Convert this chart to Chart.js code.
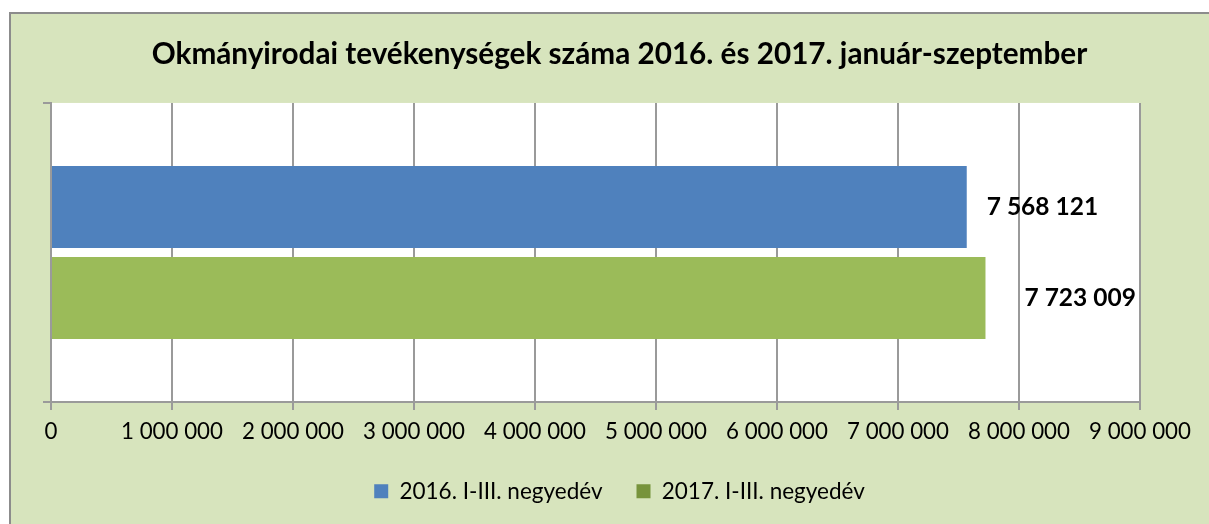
<!DOCTYPE html>
<html>
<head>
<meta charset="utf-8">
<script src="https://cdn.jsdelivr.net/npm/chart.js@4"></script>
<style>
  html, body { margin: 0; padding: 0; background: #fff; overflow: hidden; }
  #frame {
    position: absolute; left: 9px; top: 12px;
    width: 1220px; height: 530px;
    background: #d7e4bd;
    border-top: 2px solid #8c8c8c; border-left: 2px solid #8c8c8c;
  }
  canvas { display: block; }
</style>
</head>
<body>
<div id="frame"><canvas id="c" width="1198" height="510"></canvas></div>
<script>
const title = "Okmányirodai tevékenységek száma 2016. és 2017. január-szeptember";
const categories = [""];
const seriesNames = ["2016. I-III. negyedév", "2017. I-III. negyedév"];
const values2016 = [7568121];
const values2017 = [7723009];
const xTicks = [0, 1000000, 2000000, 3000000, 4000000, 5000000, 6000000, 7000000, 8000000, 9000000];

const barColors = ["#4f81bd", "#9bbb59"];
const legendColors = ["#4f81bd", "#77933c"];
const labelOffsets = [20, 39];
const gridColor = "#9a9a9a";

// 7568121 -> "7 568 121"
function fmt(v) {
  return String(v).replace(/\B(?=(\d{3})+(?!\d))/g, " ");
}

// white plot area on the green chart background
const plotBackground = {
  id: "plotBackground",
  beforeDraw(chart) {
    const { ctx, chartArea: a } = chart;
    ctx.save();
    ctx.fillStyle = "#fff";
    ctx.fillRect(a.left, a.top, a.right - a.left, a.bottom - a.top);
    ctx.restore();
  },
};

const valueLabels = {
  id: "valueLabels",
  afterDatasetsDraw(chart) {
    const ctx = chart.ctx;
    ctx.save();
    ctx.font = "bold 24.5px Lato";
    ctx.fillStyle = "#000";
    ctx.textAlign = "left";
    ctx.textBaseline = "middle";
    chart.data.datasets.forEach((ds, i) => {
      chart.getDatasetMeta(i).data.forEach((bar, j) => {
        ctx.fillText(fmt(ds.data[j]), bar.x + labelOffsets[i], bar.y);
      });
    });
    ctx.restore();
  },
};

Chart.defaults.color = "#000";
Chart.defaults.font.family = "Lato";

new Chart(document.getElementById("c"), {
  type: "bar",
  data: {
    labels: categories,
    datasets: [
      { label: seriesNames[0], data: values2016, backgroundColor: barColors[0] },
      { label: seriesNames[1], data: values2017, backgroundColor: barColors[1] },
    ],
  },
  options: {
    responsive: false,
    animation: false,
    indexAxis: "y", // horizontal bars
    categoryPercentage: 0.609,
    barPercentage: 0.9,
    layout: { padding: { left: 32, right: 13, top: 0, bottom: 11.5 } },
    plugins: {
      title: {
        display: true,
        text: title,
        font: { size: 29.7, weight: "bold" },
        padding: { top: 23, bottom: 30.3 },
      },
      legend: {
        position: "bottom",
        labels: {
          boxWidth: 14,
          boxHeight: 14,
          padding: 34,
          font: { size: 22.5 },
          generateLabels: (chart) =>
            chart.data.datasets.map((ds, i) => ({
              text: ds.label,
              fillStyle: legendColors[i],
              strokeStyle: legendColors[i],
              lineWidth: 0,
              datasetIndex: i,
            })),
        },
      },
      tooltip: { enabled: false },
    },
    scales: {
      x: {
        min: 0,
        max: 9000000,
        afterBuildTicks: (scale) => {
          scale.ticks = xTicks.map((v) => ({ value: v }));
        },
        afterFit: (scale) => { scale.height = 44; },
        ticks: {
          font: { size: 22.3 },
          padding: 8.5,
          callback: (v) => fmt(v),
        },
        grid: { color: gridColor, lineWidth: 2, tickLength: 8 },
        border: { color: gridColor, width: 2 },
      },
      y: {
        offset: true,
        afterFit: (scale) => { scale.width = 8; },
        ticks: { display: false },
        grid: { offset: true, drawOnChartArea: false, color: gridColor, lineWidth: 2, tickLength: 8 },
        border: { color: gridColor, width: 2 },
      },
      // empty right-hand spacer so the plot ends where the reference does
      spacer: {
        type: "linear",
        position: "right",
        afterFit: (scale) => { scale.width = 56; },
        ticks: { display: false },
        grid: { display: false },
        border: { display: false },
      },
    },
  },
  plugins: [plotBackground, valueLabels],
});
</script>
</body>
</html>
